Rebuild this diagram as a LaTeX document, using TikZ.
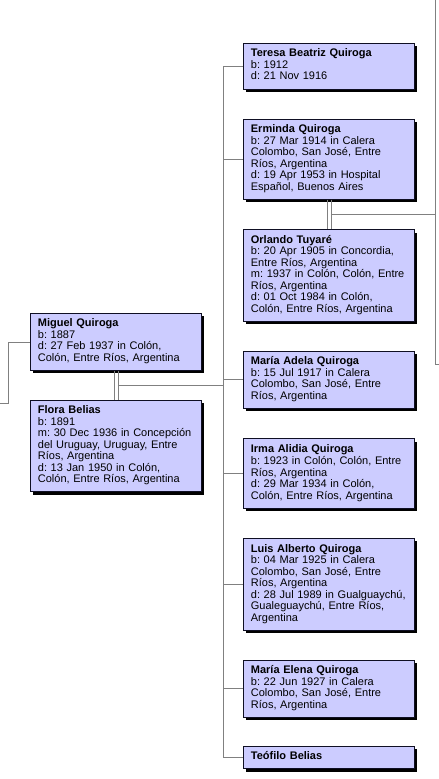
\documentclass[tikz,border=0pt]{standalone}
\usepackage{fontspec}
\setmainfont{Liberation Sans}[WordSpace=0.75]
\usetikzlibrary{positioning,shadows}

\definecolor{boxfill}{RGB}{204,204,255}
\definecolor{boxline}{RGB}{15,15,35}
\definecolor{linkgray}{RGB}{128,128,128}

\begin{document}
\begin{tikzpicture}[
  x=1pt,y=-1pt,
  node distance=29.5pt,
  person/.style={draw=boxline,fill=boxfill,line width=.8pt,
    text width=160pt,align=left,inner xsep=5.5pt,inner ysep=5.5pt,
    font=\fontsize{11}{11.5}\selectfont,
    execute at begin node={\frenchspacing\leftskip=2pt\hyphenpenalty=10000\exhyphenpenalty=10000\strut},
    execute at end node=\strut,
    drop shadow={shadow xshift=3pt,shadow yshift=-3pt,fill=black,opacity=1}},
  link/.style={draw=linkgray,line width=.8pt}
]
  \useasboundingbox (0,0) rectangle (439,779);

  % parents
  \node[person,anchor=north west] (miguel) at (30,313)
    {\textbf{Miguel Quiroga}\\ b: 1887\\ d: 27 Feb 1937 in Colón,\\ Colón, Entre Ríos, Argentina};
  \node[person,below=29pt of miguel] (flora)
    {\textbf{Flora Belias}\\ b: 1891\\ m: 30 Dec 1936 in Concepción\\ del Uruguay, Uruguay, Entre\\ Ríos, Argentina\\ d: 13 Jan 1950 in Colón,\\ Colón, Entre Ríos, Argentina};

  % children and spouse
  \node[person,anchor=north west] (teresa) at (243,43)
    {\textbf{Teresa Beatriz Quiroga}\\ b: 1912\\ d: 21 Nov 1916};
  \node[person,below=of teresa] (erminda)
    {\textbf{Erminda Quiroga}\\ b: 27 Mar 1914 in Calera\\ Colombo, San José, Entre\\ Ríos, Argentina\\ d: 19 Apr 1953 in Hospital\\ Español, Buenos Aires};
  \node[person,below=of erminda] (orlando)
    {\textbf{Orlando Tuyaré}\\ b: 20 Apr 1905 in Concordia,\\ Entre Ríos, Argentina\\ m: 1937 in Colón, Colón, Entre\\ Ríos, Argentina\\ d: 01 Oct 1984 in Colón,\\ Colón, Entre Ríos, Argentina};
  \node[person,below=of orlando] (adela)
    {\textbf{María Adela Quiroga}\\ b: 15 Jul 1917 in Calera\\ Colombo, San José, Entre\\ Ríos, Argentina};
  \node[person,below=of adela] (irma)
    {\textbf{Irma Alidia Quiroga}\\ b: 1923 in Colón, Colón, Entre\\ Ríos, Argentina\\ d: 29 Mar 1934 in Colón,\\ Colón, Entre Ríos, Argentina};
  \node[person,below=of irma] (luis)
    {\textbf{Luis Alberto Quiroga}\\ b: 04 Mar 1925 in Calera\\ Colombo, San José, Entre\\ Ríos, Argentina\\ d: 28 Jul 1989 in Gualguaychú,\\ Gualeguaychú, Entre Ríos,\\ Argentina};
  \node[person,below=of luis] (elena)
    {\textbf{María Elena Quiroga}\\ b: 22 Jun 1927 in Calera\\ Colombo, San José, Entre\\ Ríos, Argentina};
  \node[person,below=28pt of elena] (teofilo)
    {\textbf{Teófilo Belias}};

  % connectors
  \coordinate (anc) at (0,403);
  \coordinate (trunk) at ([xshift=-20pt]teresa.west);
  \coordinate (railtop) at (435,0);
  \coordinate (railend) at (439,364);

  \draw[link] (anc) -- ++(8,0) |- (miguel.west);
  \draw[link] ([xshift=-2pt]miguel.south) -- ([xshift=-2pt]flora.north);
  \draw[link] ([xshift=2pt]miguel.south) -- coordinate (famA) ([xshift=2pt]flora.north);
  \draw[link] (famA) -- (trunk |- famA);
  \draw[link] (teresa.west) -- (trunk) |- (teofilo.west);
  \foreach \kid in {erminda,adela,irma,luis,elena}
    \draw[link] (trunk |- \kid.west) -- (\kid.west);

  \draw[link] ([xshift=-2pt]erminda.south) -- ([xshift=-2pt]orlando.north);
  \draw[link] ([xshift=2pt]erminda.south) -- coordinate (famB) ([xshift=2pt]orlando.north);
  \draw[link] (famB) -- (famB -| railtop);
  \draw[link] (railtop) |- (railend);
\end{tikzpicture}
\end{document}
